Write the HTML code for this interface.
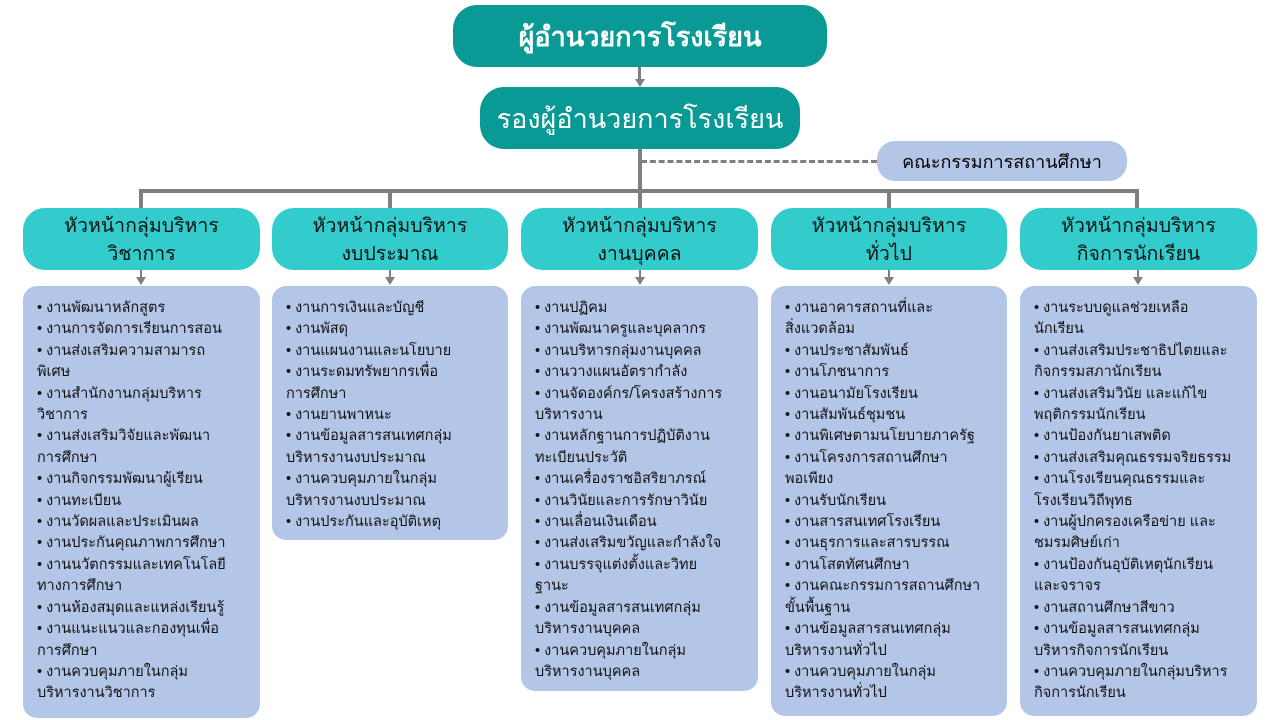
<!DOCTYPE html>
<html><head><meta charset="utf-8"><style>
body{margin:0;width:1280px;height:720px;background:#fff;position:relative;overflow:hidden;font-family:"Liberation Sans","DejaVu Sans",sans-serif;}
.a{position:absolute;box-sizing:border-box;}
.top{background:#0a9a95;color:#fff;border-radius:24px;display:flex;align-items:center;justify-content:center;font-size:27px;font-weight:bold;}
.h{background:#33cccc;color:#111;border-radius:22px;text-align:center;font-size:19.5px;line-height:28px;padding-top:4px;}
.l{background:#b4c6e7;border-radius:14px;font-size:14.5px;line-height:21.4px;color:#111;padding:12px 6px 0 14px;}
.line{position:absolute;background:#7f7f7f;}
.arr{position:absolute;width:0;height:0;border-left:5px solid transparent;border-right:5px solid transparent;border-top:8px solid #7f7f7f;}
</style></head><body>
<div class="a top" style="left:453px;top:5px;width:374px;height:62px;">ผู้อำนวยการโรงเรียน</div>
<div class="line" style="left:638px;top:67px;width:3px;height:13px"></div><div class="arr" style="left:635px;top:79px"></div>
<div class="a top" style="left:480px;top:87px;width:320px;height:62px;font-weight:normal">รองผู้อำนวยการโรงเรียน</div>
<div class="a" style="left:877px;top:141px;width:250px;height:40px;background:#b4c6e7;border-radius:18px;display:flex;align-items:center;justify-content:center;font-size:18px;">คณะกรรมการสถานศึกษา</div>
<div class="a" style="left:641px;top:160px;width:236px;border-top:3px dashed #7f7f7f"></div>
<div class="line" style="left:638px;top:149px;width:4px;height:44px"></div>
<div class="line" style="left:139px;top:189px;width:1000px;height:4px"></div>
<div class="line" style="left:139px;top:189px;width:4px;height:19px"></div>
<div class="line" style="left:388px;top:189px;width:4px;height:19px"></div>
<div class="line" style="left:638px;top:189px;width:4px;height:19px"></div>
<div class="line" style="left:887px;top:189px;width:4px;height:19px"></div>
<div class="line" style="left:1135px;top:189px;width:4px;height:19px"></div>

<div class="a h" style="left:23px;top:208px;width:237px;height:62px">หัวหน้ากลุ่มบริหาร<br>วิชาการ</div>
<div class="a h" style="left:272px;top:208px;width:236px;height:62px">หัวหน้ากลุ่มบริหาร<br>งบประมาณ</div>
<div class="a h" style="left:521px;top:208px;width:237px;height:62px">หัวหน้ากลุ่มบริหาร<br>งานบุคคล</div>
<div class="a h" style="left:771px;top:208px;width:236px;height:62px">หัวหน้ากลุ่มบริหาร<br>ทั่วไป</div>
<div class="a h" style="left:1020px;top:208px;width:237px;height:62px">หัวหน้ากลุ่มบริหาร<br>กิจการนักเรียน</div>

<div class="line" style="left:140px;top:270px;width:2px;height:8px"></div><div class="arr" style="left:136px;top:277px"></div>
<div class="line" style="left:389px;top:270px;width:2px;height:8px"></div><div class="arr" style="left:385px;top:277px"></div>
<div class="line" style="left:639px;top:270px;width:2px;height:8px"></div><div class="arr" style="left:635px;top:277px"></div>
<div class="line" style="left:888px;top:270px;width:2px;height:8px"></div><div class="arr" style="left:884px;top:277px"></div>
<div class="line" style="left:1137px;top:270px;width:2px;height:8px"></div><div class="arr" style="left:1133px;top:277px"></div>

<div class="a l" style="left:23px;top:286px;width:237px;height:432px">
<div>• งานพัฒนาหลักสูตร</div><div>• งานการจัดการเรียนการสอน</div><div>• งานส่งเสริมความสามารถ<br>พิเศษ</div><div>• งานสำนักงานกลุ่มบริหาร<br>วิชาการ</div><div>• งานส่งเสริมวิจัยและพัฒนา<br>การศึกษา</div><div>• งานกิจกรรมพัฒนาผู้เรียน</div><div>• งานทะเบียน</div><div>• งานวัดผลและประเมินผล</div><div>• งานประกันคุณภาพการศึกษา</div><div>• งานนวัตกรรมและเทคโนโลยี<br>ทางการศึกษา</div><div>• งานห้องสมุดและแหล่งเรียนรู้</div><div>• งานแนะแนวและกองทุนเพื่อ<br>การศึกษา</div><div>• งานควบคุมภายในกลุ่ม<br>บริหารงานวิชาการ</div>
</div>
<div class="a l" style="left:272px;top:286px;width:236px;height:254px">
<div>• งานการเงินและบัญชี</div><div>• งานพัสดุ</div><div>• งานแผนงานและนโยบาย</div><div>• งานระดมทรัพยากรเพื่อ<br>การศึกษา</div><div>• งานยานพาหนะ</div><div>• งานข้อมูลสารสนเทศกลุ่ม<br>บริหารงานงบประมาณ</div><div>• งานควบคุมภายในกลุ่ม<br>บริหารงานงบประมาณ</div><div>• งานประกันและอุบัติเหตุ</div>
</div>
<div class="a l" style="left:521px;top:286px;width:237px;height:405px">
<div>• งานปฏิคม</div><div>• งานพัฒนาครูและบุคลากร</div><div>• งานบริหารกลุ่มงานบุคคล</div><div>• งานวางแผนอัตรากำลัง</div><div>• งานจัดองค์กร/โครงสร้างการ<br>บริหารงาน</div><div>• งานหลักฐานการปฏิบัติงาน<br>ทะเบียนประวัติ</div><div>• งานเครื่องราชอิสริยาภรณ์</div><div>• งานวินัยและการรักษาวินัย</div><div>• งานเลื่อนเงินเดือน</div><div>• งานส่งเสริมขวัญและกำลังใจ</div><div>• งานบรรจุแต่งตั้งและวิทย<br>ฐานะ</div><div>• งานข้อมูลสารสนเทศกลุ่ม<br>บริหารงานบุคคล</div><div>• งานควบคุมภายในกลุ่ม<br>บริหารงานบุคคล</div>
</div>
<div class="a l" style="left:771px;top:286px;width:236px;height:430px">
<div>• งานอาคารสถานที่และ<br>สิ่งแวดล้อม</div><div>• งานประชาสัมพันธ์</div><div>• งานโภชนาการ</div><div>• งานอนามัยโรงเรียน</div><div>• งานสัมพันธ์ชุมชน</div><div>• งานพิเศษตามนโยบายภาครัฐ</div><div>• งานโครงการสถานศึกษา<br>พอเพียง</div><div>• งานรับนักเรียน</div><div>• งานสารสนเทศโรงเรียน</div><div>• งานธุรการและสารบรรณ</div><div>• งานโสตทัศนศึกษา</div><div>• งานคณะกรรมการสถานศึกษา<br>ขั้นพื้นฐาน</div><div>• งานข้อมูลสารสนเทศกลุ่ม<br>บริหารงานทั่วไป</div><div>• งานควบคุมภายในกลุ่ม<br>บริหารงานทั่วไป</div>
</div>
<div class="a l" style="left:1020px;top:286px;width:237px;height:430px">
<div>• งานระบบดูแลช่วยเหลือ<br>นักเรียน</div><div>• งานส่งเสริมประชาธิปไตยและ<br>กิจกรรมสภานักเรียน</div><div>• งานส่งเสริมวินัย และแก้ไข<br>พฤติกรรมนักเรียน</div><div>• งานป้องกันยาเสพติด</div><div>• งานส่งเสริมคุณธรรมจริยธรรม</div><div>• งานโรงเรียนคุณธรรมและ<br>โรงเรียนวิถีพุทธ</div><div>• งานผู้ปกครองเครือข่าย และ<br>ชมรมศิษย์เก่า</div><div>• งานป้องกันอุบัติเหตุนักเรียน<br>และจราจร</div><div>• งานสถานศึกษาสีขาว</div><div>• งานข้อมูลสารสนเทศกลุ่ม<br>บริหารกิจการนักเรียน</div><div>• งานควบคุมภายในกลุ่มบริหาร<br>กิจการนักเรียน</div>
</div>
</body></html>
